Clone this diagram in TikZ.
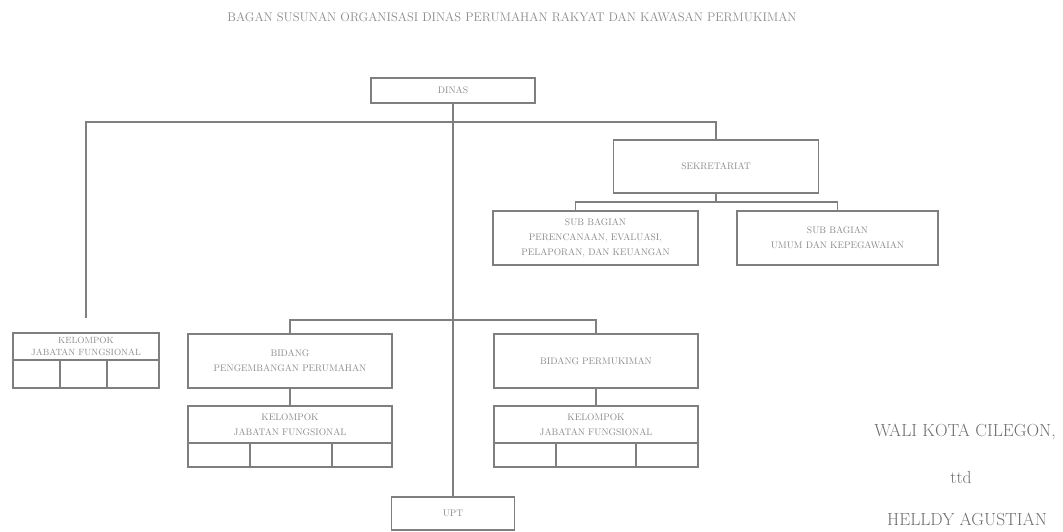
\documentclass[tikz,border=0pt]{standalone}
\usepackage{tikz}
\usetikzlibrary{positioning, calc}
\definecolor{lineg}{HTML}{7F7F7F}
\definecolor{textg}{HTML}{8A8A8A}
\tikzset{
	box/.style={
		draw=lineg,
		rectangle,
		line width=1.2pt,
		outer sep=0pt,
		inner sep=0pt,
		align=center,
		text=textg,
		font=\fontsize{9.5}{15}\selectfont
	},
	cell/.style={
		draw=lineg,
		rectangle,
		line width=1.2pt,
		outer sep=0pt,
		inner sep=0pt
	},
	line/.style={
		draw=lineg,
		line width=1.2pt
	},
	sign/.style={
		text=textg!80!black,
		font=\fontsize{17.5}{20}\selectfont
	},
}

\begin{document}
\begin{tikzpicture}[x=1pt,y=-1pt]
\useasboundingbox (0,0) rectangle (1063,531);

% Title
\node[text=textg,font=\fontsize{12.5}{14}\selectfont] (Title) at (512,17)
	{BAGAN SUSUNAN ORGANISASI DINAS PERUMAHAN RAKYAT DAN KAWASAN PERMUKIMAN};

% Kepala Dinas
\node[box,minimum width=164pt,minimum height=25pt] (Dinas) at (453,90.5) {DINAS};

% Sekretariat
\node[box,minimum width=205pt,minimum height=53pt] (Sek) at (716,166.5) {SEKRETARIAT};
\node[box,minimum width=205pt,minimum height=54pt] (SubA) at (595.5,238)
	{SUB BAGIAN\\PERENCANAAN, EVALUASI,\\PELAPORAN, DAN KEUANGAN};
\node[box,minimum width=201pt,minimum height=54pt] (SubB) at (837.5,238)
	{SUB BAGIAN\\UMUM DAN KEPEGAWAIAN};

% Kelompok Jabatan Fungsional (Dinas)
\node[box,minimum width=146pt,minimum height=27pt,font=\fontsize{9}{12}\selectfont] (KelA) at (86,346.5)
	{KELOMPOK\\JABATAN FUNGSIONAL};
\node[cell,minimum width=47pt,minimum height=28pt,below right=0pt and 0pt of KelA.south west] (KelA1) {};
\node[cell,minimum width=47pt,minimum height=28pt,right=0pt of KelA1] (KelA2) {};
\node[cell,minimum width=52pt,minimum height=28pt,right=0pt of KelA2] (KelA3) {};

% Bidang Pengembangan Perumahan
\node[box,minimum width=204pt,minimum height=54pt] (BidA) at (290,361)
	{BIDANG\\PENGEMBANGAN PERUMAHAN};
\node[box,minimum width=204pt,minimum height=37pt,below=18pt of BidA] (KelB)
	{KELOMPOK\\JABATAN FUNGSIONAL};
\node[cell,minimum width=62pt,minimum height=24pt,below right=0pt and 0pt of KelB.south west] (KelB1) {};
\node[cell,minimum width=82pt,minimum height=24pt,right=0pt of KelB1] (KelB2) {};
\node[cell,minimum width=60pt,minimum height=24pt,right=0pt of KelB2] (KelB3) {};

% Bidang Permukiman
\node[box,minimum width=204pt,minimum height=54pt] (BidB) at (596,361) {BIDANG PERMUKIMAN};
\node[box,minimum width=204pt,minimum height=37pt,below=18pt of BidB] (KelC)
	{KELOMPOK\\JABATAN FUNGSIONAL};
\node[cell,minimum width=62pt,minimum height=24pt,below right=0pt and 0pt of KelC.south west] (KelC1) {};
\node[cell,minimum width=80pt,minimum height=24pt,right=0pt of KelC1] (KelC2) {};
\node[cell,minimum width=62pt,minimum height=24pt,right=0pt of KelC2] (KelC3) {};

% UPT
\node[box,minimum width=123pt,minimum height=33pt] (Upt) at (453,513.5) {UPT};

% Signature
\node[sign] (Wali) at (965,432) {WALI KOTA CILEGON,};
\node[sign] (Ttd) at (961,477) {ttd};
\node[sign] (Nama) at (967,519) {HELLDY AGUSTIAN};

% Connectors
\coordinate (Hub) at (453,122);
\coordinate (KelAEnd) at ([yshift=15pt]KelA.north);
\coordinate (SekHub) at ($(Sek.south)+(0,9)$);
\coordinate (BidHub) at (453,320);

\draw[line] (Dinas.south) -- (Upt.north);
\draw[line] (KelAEnd) |- (Hub) -| (Sek.north);
\draw[line] (Sek.south) -- (SekHub);
\draw[line] ([xshift=-20pt]SubA.north) |- (SekHub) -| (SubB.north);
\draw[line] (BidA.north) |- (BidHub) -| (BidB.north);
\draw[line] (BidA) -- (KelB);
\draw[line] (BidB) -- (KelC);

\end{tikzpicture}
\end{document}
